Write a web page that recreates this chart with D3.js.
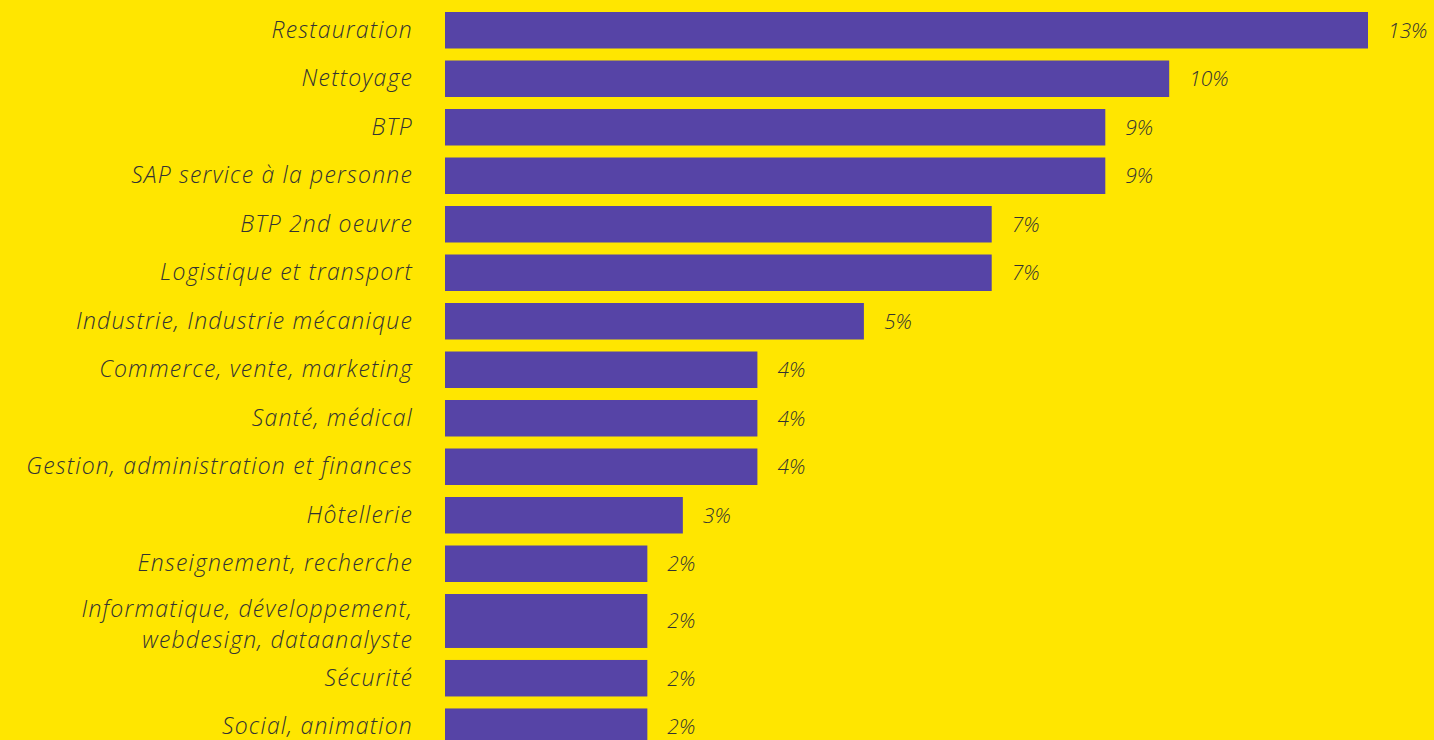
<!DOCTYPE html>
<html>
<head>
<meta charset="utf-8">
<script src="https://cdn.jsdelivr.net/npm/d3@7"></script>
<style>
  html, body { margin: 0; padding: 0; background: #FFE600; overflow: hidden; }
  svg { display: block; }
  text { font-family: "Open Sans", Lato, sans-serif; font-style: italic; font-weight: 300; fill: #333; }
</style>
</head>
<body>
<svg></svg>
<script>
var categories = [
	'Restauration',
	'Nettoyage',
	'BTP',
	'SAP service à la personne',
	'BTP 2nd oeuvre',
	'Logistique et transport',
	'Industrie, Industrie mécanique',
	'Commerce, vente, marketing',
	'Santé, médical',
	'Gestion, administration et finances',
	'Hôtellerie',
	'Enseignement, recherche',
	'Informatique, développement,\nwebdesign, dataanalyste',
	'Sécurité',
	'Social, animation'
];
var values = [13.0, 10.2, 9.3, 9.3, 7.7, 7.7, 5.9, 4.4, 4.4, 4.4, 3.35, 2.85, 2.85, 2.85, 2.85];
var valueLabels = ['13%', '10%', '9%', '9%', '7%', '7%', '5%', '4%', '4%', '4%', '3%', '2%', '2%', '2%', '2%'];

var width = 1434;
var height = 740;
var margin = {
	top: 12,
	left: 445
};
var rowStep = 48.5;
var gap = 12;

var svg = d3.select('svg')
	.attr('width', width)
	.attr('height', height);

svg.append('rect')
	.attr('width', width)
	.attr('height', height)
	.attr('fill', '#FFE600');

// rows with a two-line label get a bit more room
var rows = categories.map(function(c, i) {
	var lines = c.split('\n');
	return { name: c, lines: lines, units: lines.length > 1 ? 1.36 : 1, value: values[i], label: valueLabels[i] };
});
var acc = 0;
rows.forEach(function(r) { r.start = acc; acc += r.units; });

var y = d3.scaleLinear()
	.domain([0, 1])
	.range([margin.top, margin.top + rowStep]);

var x = d3.scaleLinear()
	.domain([0, 13])
	.range([0, 923]);

var g = svg.append('g')
	.attr('transform', `translate(${margin.left},0)`);

var row = g.selectAll('.row')
	.data(rows)
	.enter()
	.append('g')
	.attr('class', 'row');

row.append('rect')
	.attr('x', 0)
	.attr('y', function(d) { return y(d.start); })
	.attr('width', function(d) { return x(d.value); })
	.attr('height', function(d) { return y(d.start + d.units) - y(d.start) - gap; })
	.attr('fill', '#5644A6');

function mid(d) {
	return (y(d.start) + y(d.start + d.units) - gap) / 2;
}

row.append('text')
	.attr('x', -32)
	.attr('y', mid)
	.attr('text-anchor', 'end')
	.style('font-size', '23px')
	.style('letter-spacing', '1.2px')
	.each(function(d) {
		var t = d3.select(this);
		var n = d.lines.length;
		d.lines.forEach(function(line, k) {
			t.append('tspan')
				.attr('x', -32)
				.attr('y', mid(d) + (n > 1 ? 4 : 0) + (k - (n - 1) / 2) * 31)
				.attr('dy', '0.32em')
				.text(line);
		});
	});

row.append('text')
	.attr('x', function(d) { return x(d.value) + 20; })
	.attr('y', mid)
	.attr('dy', '0.35em')
	.style('font-size', '21px')
	.text(function(d) { return d.label; });
</script>
</body>
</html>
